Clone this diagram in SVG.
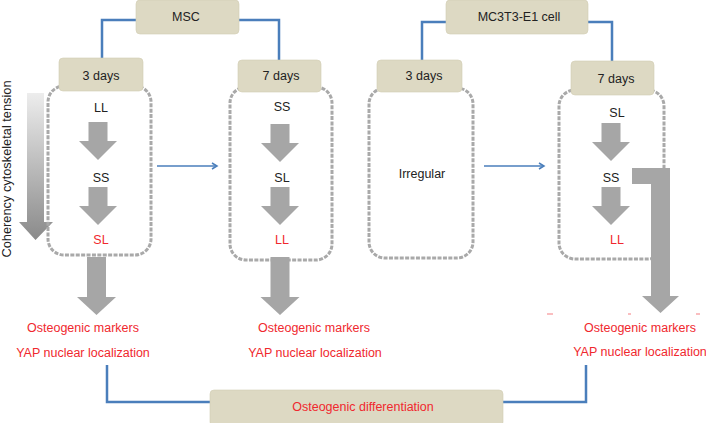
<svg xmlns="http://www.w3.org/2000/svg" xmlns:xlink="http://www.w3.org/1999/xlink" width="706" height="423" viewBox="0 0 706 423">
<style>
.t{font-family:"Liberation Sans",Arial,sans-serif;font-size:12.5px;text-anchor:middle;fill:#222}
.r{fill:#f0282e}
.box{fill:#ddd9c3;stroke:#d2cdb4;stroke-width:0.6}
.dash{fill:none;stroke:#a9a9a9;stroke-width:3;stroke-dasharray:4 1.4}
.conn{fill:none;stroke:#4a7ebb;stroke-width:2.5}
.arr{fill:#a6a6a6}
.blue{fill:none;stroke:#4a7ebb;stroke-width:1.5}
</style>
<defs>
<path id="sa" d="M-9.5,0 H9.5 V19 H19 L0,38 L-19,19 H-9.5 Z"/>
<path id="ba" d="M-9.5,0 H9.5 V40 H19.5 L0,58 L-19.5,40 H-9.5 Z"/>
<marker id="ah" markerWidth="8" markerHeight="8" refX="6" refY="4" orient="auto" markerUnits="userSpaceOnUse">
<path d="M1,1 L6,4 L1,7" fill="none" stroke="#4a7ebb" stroke-width="1.5"/>
</marker>
<linearGradient id="gr" x1="0" y1="0" x2="0" y2="1">
<stop offset="0" stop-color="#ededed"/>
<stop offset="1" stop-color="#8a8a8a"/>
</linearGradient>
</defs>

<g id="connectors">
<path class="conn" d="M136,20 H102 V58"/>
<path class="conn" d="M239,20 H279 V60"/>
<path class="conn" d="M446,22 H422 V60"/>
<path class="conn" d="M588,22 H612 V61"/>
<path class="conn" d="M107,365 V402 H210"/>
<path class="conn" d="M503,402 H586 V365"/>
<line class="blue" x1="157" y1="166" x2="217" y2="166" marker-end="url(#ah)"/>
<line class="blue" x1="484" y1="166" x2="544" y2="166" marker-end="url(#ah)"/>
</g>

<g id="tension">
<path d="M27,93 H44 V222 H53 L35.5,240 L19,222 H27 Z" fill="url(#gr)"/>
<text class="t" transform="translate(11,169) rotate(-90)" style="font-size:12.8px">Coherency cytoskeletal tension</text>
</g>

<g id="msc-3days">
<rect class="dash" x="48" y="86" width="103" height="169" rx="16"/>
<use href="#sa" class="arr" x="98" y="122"/>
<use href="#sa" class="arr" x="98" y="187"/>
<use href="#ba" class="arr" x="96.5" y="257"/>
<text class="t" x="101" y="112">LL</text>
<text class="t" x="101" y="182">SS</text>
<text class="t r" x="101" y="244">SL</text>
</g>

<g id="msc-7days">
<rect class="dash" x="230" y="87" width="102" height="173" rx="16"/>
<use href="#sa" class="arr" x="280" y="124"/>
<use href="#sa" class="arr" x="280" y="187"/>
<use href="#ba" class="arr" x="280" y="257"/>
<text class="t" x="282" y="111">SS</text>
<text class="t" x="282" y="182">SL</text>
<text class="t r" x="282" y="244">LL</text>
</g>

<g id="mc-3days">
<rect class="dash" x="369" y="88" width="104" height="170" rx="16"/>
<text class="t" x="422" y="178">Irregular</text>
</g>

<g id="mc-7days">
<rect class="dash" x="559" y="90" width="105" height="169" rx="16"/>
<use href="#sa" class="arr" x="611" y="123"/>
<use href="#sa" class="arr" x="611" y="187"/>
<path class="arr" d="M632,168 H670 V296 H679 L660.5,313 L642,296 H651 V184 H632 Z"/>
<text class="t" x="617" y="117">SL</text>
<text class="t" x="611" y="182">SS</text>
<text class="t r" x="617" y="244">LL</text>
</g>

<g id="msc">
<rect class="box" x="136" y="0" width="103" height="34" rx="4"/>
<text class="t" x="186" y="21">MSC</text>
</g>
<g id="msc-3days-label">
<rect class="box" x="59" y="58" width="84" height="33" rx="4"/>
<text class="t" x="101" y="80">3 days</text>
</g>
<g id="msc-7days-label">
<rect class="box" x="238" y="60" width="83" height="32" rx="4"/>
<text class="t" x="281" y="80">7 days</text>
</g>
<g id="mc3t3">
<rect class="box" x="446" y="0" width="142" height="34" rx="4"/>
<text class="t" x="519" y="21">MC3T3-E1 cell</text>
</g>
<g id="mc-3days-label">
<rect class="box" x="377" y="60" width="85" height="32" rx="4"/>
<text class="t" x="424" y="80">3 days</text>
</g>
<g id="mc-7days-label">
<rect class="box" x="571" y="61" width="83" height="34" rx="4"/>
<text class="t" x="616" y="83">7 days</text>
</g>

<g id="out-1">
<text class="t r" x="83" y="332">Osteogenic markers</text>
<text class="t r" x="83" y="357">YAP nuclear localization</text>
</g>
<g id="out-2">
<text class="t r" x="314" y="332">Osteogenic markers</text>
<text class="t r" x="315" y="357">YAP nuclear localization</text>
</g>
<g id="out-3">
<rect x="547" y="313.5" width="6" height="1" fill="#f0282e" opacity="0.6"/>
<rect x="628" y="313.5" width="3" height="1" fill="#f0282e" opacity="0.6"/>
<rect x="696" y="313.5" width="4" height="1" fill="#f0282e" opacity="0.6"/>
<text class="t r" x="640" y="332">Osteogenic markers</text>
<text class="t r" x="640" y="356">YAP nuclear localization</text>
</g>

<g id="differentiation">
<rect class="box" x="210" y="390" width="293" height="36" rx="4"/>
<text class="t r" x="363" y="411">Osteogenic differentiation</text>
</g>
</svg>
